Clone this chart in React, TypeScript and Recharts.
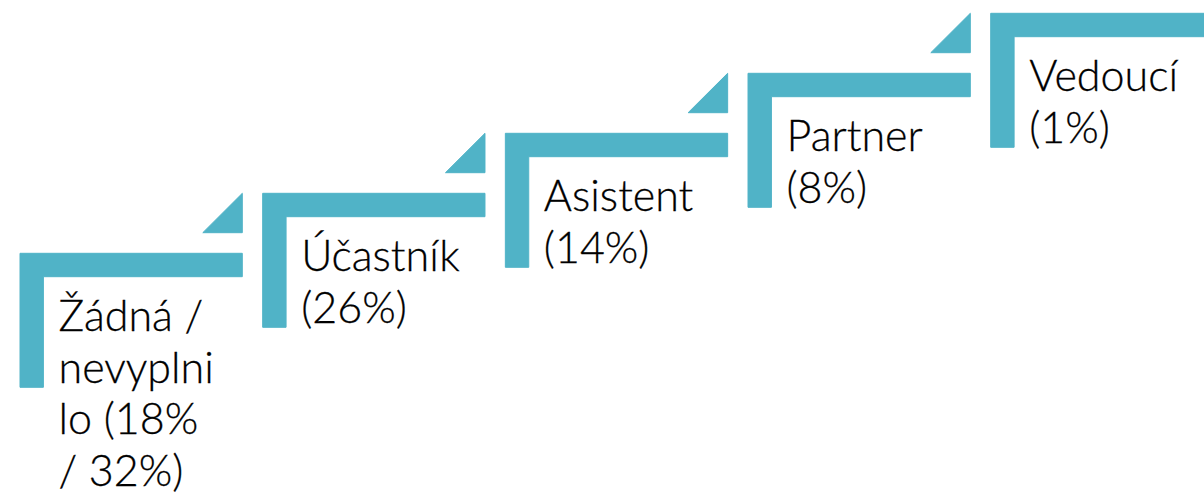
import { ScatterChart, Scatter, XAxis, YAxis } from "recharts";

// step order (bottom-left to top-right)
const steps = [0, 1, 2, 3, 4];
const roles = ["Žádná / nevyplnilo", "Účastník", "Asistent", "Partner", "Vedoucí"];
const shares = ["18% / 32%", "26%", "14%", "8%", "1%"];
// text as wrapped in the original text boxes
const labelLines = [
  ["Žádná /", "nevyplni", "lo (18%", "/ 32%)"],
  ["Účastník", "(26%)"],
  ["Asistent", "(14%)"],
  ["Partner", "(8%)"],
  ["Vedoucí", "(1%)"],
];

const data = steps.map((s, i) => ({
  step: s,
  level: s,
  role: roles[i],
  share: shares[i],
  lines: labelLines[i],
}));

const TEAL = "#50B3C7";
const BAR_W = 222.3;
const BAR_T = 23.4;
const LEG_H = 134;
const TRI = 39.5;

function StepShape(props: any) {
  const { cx, cy, payload } = props;
  const x = cx;
  const y = cy;
  const bracket = `M${x},${y} H${x + BAR_W} V${y + BAR_T} H${x + BAR_T} V${y + LEG_H} H${x} Z`;
  const triBottom = y - 20.6;
  const tri = `M${x + BAR_W},${y - 60} L${x + BAR_W},${triBottom} L${x + BAR_W - TRI},${triBottom} Z`;
  return (
    <g>
      <path d={bracket} fill={TEAL} stroke={TEAL} strokeWidth={1} strokeLinejoin="round" />
      <path d={tri} fill={TEAL} stroke={TEAL} strokeWidth={1} strokeLinejoin="round" />
      <text
        x={x + 38.5}
        y={y + 78}
        fontFamily="Lato, 'Open Sans', sans-serif"
        fontWeight={300}
        fontSize={43}
        fill="#000"
        stroke="#000"
        strokeWidth={0.3}
      >
        {payload.lines.map((line: string, i: number) => (
          <tspan key={i} x={x + 38.5} dy={i === 0 ? 0 : 51.5}>
            {line}
          </tspan>
        ))}
      </text>
    </g>
  );
}

export default function App() {
  return (
    <div style={{ position: "absolute", left: 0, top: 0, width: 1204, height: 495, background: "#fff" }}>
      <ScatterChart
        width={1204}
        height={495}
        margin={{ top: 13.3, right: 213.3, bottom: 241.7, left: 20 }}
      >
        <XAxis type="number" dataKey="step" domain={[0, 4]} hide />
        <YAxis type="number" dataKey="level" domain={[0, 4]} hide />
        <Scatter data={data} shape={StepShape} isAnimationActive={false} />
      </ScatterChart>
    </div>
  );
}
